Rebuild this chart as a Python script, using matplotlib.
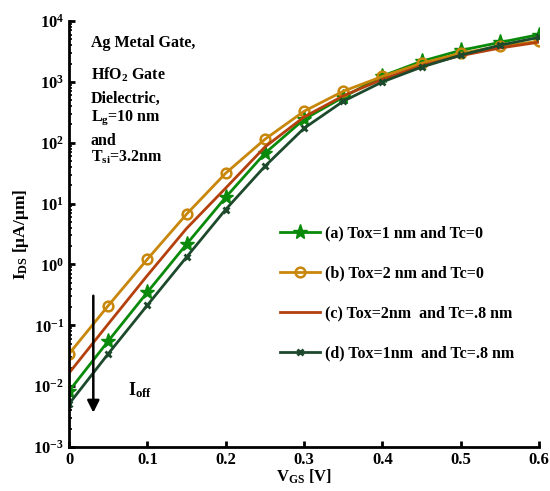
import matplotlib.pyplot as plt
import numpy as np

plt.rcParams['font.family'] = ['Liberation Serif', 'DejaVu Serif']
plt.rcParams['font.weight'] = 'bold'
plt.rcParams['axes.labelweight'] = 'bold'
plt.rcParams['mathtext.fontset'] = 'custom'
plt.rcParams['mathtext.rm'] = 'Liberation Serif:bold'
plt.rcParams['mathtext.it'] = 'Liberation Serif:bold'
plt.rcParams['mathtext.bf'] = 'Liberation Serif:bold'

# 栅压 (V)
vgs = [0.0, 0.05, 0.1, 0.15, 0.2, 0.25, 0.3, 0.35, 0.4, 0.45, 0.5, 0.55, 0.6]

# 漏电流 (uA/um)
ids_a = [0.0083, 0.055, 0.35, 2.15, 12.7, 67, 243, 560, 1250, 2180, 3300, 4450, 6000]
ids_b = [0.034, 0.21, 1.22, 6.7, 31.6, 114, 329, 701, 1230, 2020, 2950, 3850, 4650]
ids_c = [0.0164, 0.105, 0.66, 3.9, 18.0, 85, 265, 590, 1100, 1850, 2700, 3600, 4500]
ids_d = [0.0051, 0.034, 0.214, 1.32, 8.0, 41, 173, 480, 1000, 1750, 2750, 4000, 5400]

labels = ['(a) Tox=1 nm and Tc=0',
          '(b) Tox=2 nm and Tc=0',
          '(c) Tox=2nm  and Tc=.8 nm',
          '(d) Tox=1nm  and Tc=.8 nm']

fig = plt.figure(figsize=(5.5, 4.91), dpi=100)
ax = fig.add_axes([0.1255, 0.0896, 0.8545, 0.8675])

ax.plot(vgs, ids_a, color='#0a8a0a', lw=2, marker='*', ms=11, label=labels[0])
ax.plot(vgs, ids_b, color='#c8860a', lw=2, marker='o', ms=7, mfc='none', mew=1.8, label=labels[1])
ax.plot(vgs, ids_c, color='#b4400e', lw=2, label=labels[2])
ax.plot(vgs, ids_d, color='#1d4a2c', lw=2, marker='x', ms=4, mew=2, label=labels[3])

ax.set_yscale('log')
ax.set_xlim(0, 0.6)
ax.set_ylim(1e-3, 1e4)
ax.set_xticks([0, 0.1, 0.2, 0.3, 0.4, 0.5, 0.6])
ax.set_xticklabels(['0', '0.1', '0.2', '0.3', '0.4', '0.5', '0.6'])
ax.tick_params(direction='in', labelsize=12, width=2, length=4)
ax.tick_params(which='minor', direction='in', width=1.2, length=2)
for s in ['top', 'right']:
    ax.spines[s].set_visible(False)
for s in ['left', 'bottom']:
    ax.spines[s].set_linewidth(2)

ax.set_xlabel(r'V$_{\mathrm{GS}}$ [V]', fontsize=12, labelpad=0)
ax.set_ylabel(r'I$_{\mathrm{DS}}$ [$\mu$A/$\mu$m]', fontsize=12.5, labelpad=2)

# 左上角说明文字
fs = 11.5
ax.text(0.028, 4400, 'Ag Metal Gate,', fontsize=fs, va='center')
ax.text(0.028, 1300, r'HfO$_2$ Gate', fontsize=fs, va='center')
ax.text(0.028, 530, 'Dielectric,', fontsize=fs, va='center')
ax.text(0.028, 260, r'L$_\mathrm{g}$=10 nm', fontsize=fs, va='center')
ax.text(0.028, 105, 'and', fontsize=fs, va='center')
ax.text(0.028, 58, r'T$_\mathrm{si}$=3.2nm', fontsize=fs, va='center')

# I_off 箭头
ax.annotate('', xy=(0.031, 0.0033), xytext=(0.031, 0.34),
            arrowprops=dict(arrowstyle='-|>', color='black', lw=1.8, mutation_scale=18))
ax.text(0.075, 0.0085, r'I$_\mathrm{off}$', fontsize=13, va='center')

ax.legend(loc='upper left', bbox_to_anchor=(0.435, 0.535), frameon=False, fontsize=11.5,
          labelspacing=1.5, handlelength=2.5, handletextpad=0.3, borderaxespad=0)

fig.savefig('out.png', dpi=100)
